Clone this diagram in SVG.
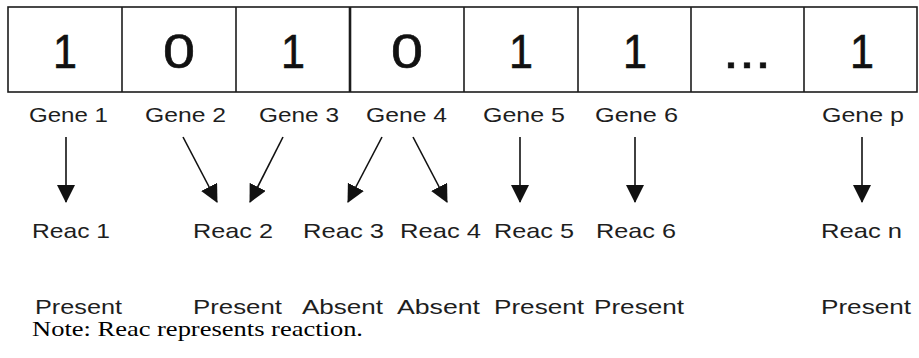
<svg xmlns="http://www.w3.org/2000/svg" width="919" height="358" viewBox="0 0 919 358">
  <style>
    .cell { fill: #fff; stroke: #1c1c1c; stroke-width: 1.6; }
    .bit { font-family: "Liberation Sans", Arial, sans-serif; font-size: 49px; fill: #111; stroke: #111; stroke-width: 0.6; text-anchor: middle; }
    .lbl { font-family: "Liberation Sans", Arial, sans-serif; font-size: 21px; fill: #1e1e1e; }
    .note { font-family: "Liberation Serif", "Times New Roman", serif; font-size: 22px; fill: #000; }
    .arrow { stroke: #111; stroke-width: 1.6; fill: none; marker-end: url(#head); }
  </style>
  <defs>
    <marker id="head" viewBox="0 0 18 18" markerWidth="18" markerHeight="18" refX="17" refY="9" orient="auto" markerUnits="userSpaceOnUse">
      <path d="M0,0 L18,9 L0,18 z" fill="#111"/>
    </marker>
  </defs>
  <rect width="919" height="358" fill="#fff"/>

  <!-- chromosome: one cell per gene -->
  <g id="chromosome">
    <rect class="cell" x="8" y="7" width="909" height="85"/>
    <line class="cell" x1="122" y1="7" x2="122" y2="92"/>
    <line class="cell" x1="236" y1="7" x2="236" y2="92"/>
    <line class="cell" x1="350" y1="7" x2="350" y2="92" style="stroke-width:2.6"/>
    <line class="cell" x1="464" y1="7" x2="464" y2="92"/>
    <line class="cell" x1="578" y1="7" x2="578" y2="92"/>
    <line class="cell" x1="691" y1="7" x2="691" y2="92"/>
    <line class="cell" x1="804" y1="7" x2="804" y2="92"/>
    <text class="bit" x="65" y="68" textLength="24" lengthAdjust="spacingAndGlyphs">1</text>
    <text class="bit" x="179" y="68" textLength="32" lengthAdjust="spacingAndGlyphs">0</text>
    <text class="bit" x="293" y="68" textLength="24" lengthAdjust="spacingAndGlyphs">1</text>
    <text class="bit" x="407" y="68" textLength="32" lengthAdjust="spacingAndGlyphs">0</text>
    <text class="bit" x="521" y="68" textLength="24" lengthAdjust="spacingAndGlyphs">1</text>
    <text class="bit" x="635" y="68" textLength="24" lengthAdjust="spacingAndGlyphs">1</text>
    <text class="bit" x="747" y="68" textLength="48" lengthAdjust="spacingAndGlyphs">...</text>
    <text class="bit" x="862" y="68" textLength="24" lengthAdjust="spacingAndGlyphs">1</text>
  </g>

  <!-- gene labels -->
  <g id="genes" class="lbl">
    <text id="gene1" x="29" y="122" textLength="79" lengthAdjust="spacingAndGlyphs">Gene 1</text>
    <text id="gene2" x="145" y="122" textLength="81" lengthAdjust="spacingAndGlyphs">Gene 2</text>
    <text id="gene3" x="259" y="122" textLength="80" lengthAdjust="spacingAndGlyphs">Gene 3</text>
    <text id="gene4" x="366" y="122" textLength="81" lengthAdjust="spacingAndGlyphs">Gene 4</text>
    <text id="gene5" x="483" y="122" textLength="82" lengthAdjust="spacingAndGlyphs">Gene 5</text>
    <text id="gene6" x="595" y="122" textLength="83" lengthAdjust="spacingAndGlyphs">Gene 6</text>
    <text id="genep" x="822" y="122" textLength="82" lengthAdjust="spacingAndGlyphs">Gene p</text>
  </g>

  <!-- gene to reaction connectors -->
  <g id="connectors">
    <line class="arrow" x1="66" y1="137" x2="66" y2="202"/>
    <line class="arrow" x1="183" y1="137" x2="217" y2="202"/>
    <line class="arrow" x1="283" y1="137" x2="250" y2="202"/>
    <line class="arrow" x1="382" y1="137" x2="348" y2="202"/>
    <line class="arrow" x1="413" y1="137" x2="447" y2="202"/>
    <line class="arrow" x1="520" y1="137" x2="520" y2="202"/>
    <line class="arrow" x1="635" y1="137" x2="635" y2="202"/>
    <line class="arrow" x1="862" y1="137" x2="862" y2="202"/>
  </g>

  <!-- reaction labels -->
  <g id="reactions" class="lbl">
    <text id="reac1" x="32" y="238" textLength="78" lengthAdjust="spacingAndGlyphs">Reac 1</text>
    <text id="reac2" x="193" y="238" textLength="80" lengthAdjust="spacingAndGlyphs">Reac 2</text>
    <text id="reac3" x="303" y="238" textLength="81" lengthAdjust="spacingAndGlyphs">Reac 3</text>
    <text id="reac4" x="400" y="238" textLength="81" lengthAdjust="spacingAndGlyphs">Reac 4</text>
    <text id="reac5" x="494" y="238" textLength="80" lengthAdjust="spacingAndGlyphs">Reac 5</text>
    <text id="reac6" x="596" y="238" textLength="80" lengthAdjust="spacingAndGlyphs">Reac 6</text>
    <text id="reacn" x="821" y="238" textLength="81" lengthAdjust="spacingAndGlyphs">Reac n</text>
  </g>

  <!-- presence status per reaction -->
  <g id="status" class="lbl">
    <text x="35" y="314" textLength="87" lengthAdjust="spacingAndGlyphs">Present</text>
    <text x="193" y="314" textLength="89" lengthAdjust="spacingAndGlyphs">Present</text>
    <text x="302" y="314" textLength="81" lengthAdjust="spacingAndGlyphs">Absent</text>
    <text x="397" y="314" textLength="83" lengthAdjust="spacingAndGlyphs">Absent</text>
    <text x="494" y="314" textLength="90" lengthAdjust="spacingAndGlyphs">Present</text>
    <text x="594" y="314" textLength="90" lengthAdjust="spacingAndGlyphs">Present</text>
    <text x="821" y="314" textLength="90" lengthAdjust="spacingAndGlyphs">Present</text>
  </g>

  <g id="note">
    <text class="note" x="32" y="336" textLength="331" lengthAdjust="spacingAndGlyphs">Note: Reac represents reaction.</text>
  </g>
</svg>
